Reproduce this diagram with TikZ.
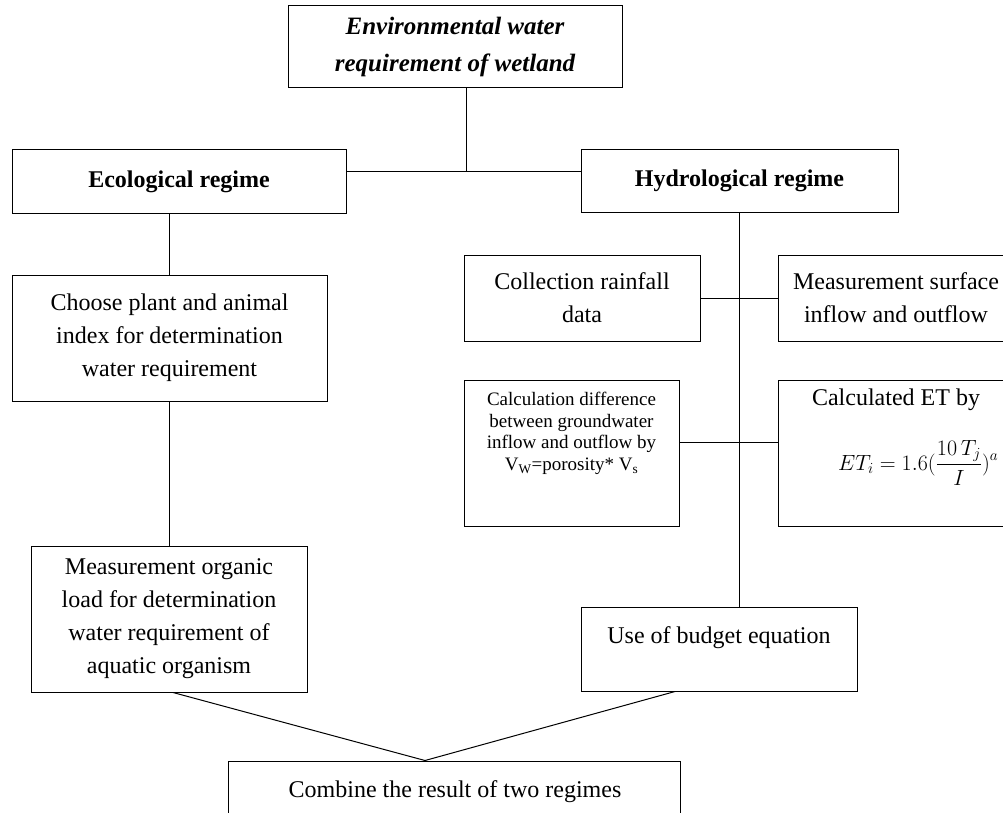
\RequirePackage{fix-cm}
\documentclass[tikz,border=0pt]{standalone}
\usepackage{fontspec}
\setmainfont{Liberation Serif}
\begin{document}
\begin{tikzpicture}[x=1pt,y=-1pt,
  box/.style={draw, line width=1pt, inner sep=0pt, align=center, font=\fontsize{24}{33}\selectfont},
  boldbox/.style={box, font=\fontsize{24}{33}\selectfont\bfseries},
  txt/.style={inner sep=0pt, align=center, anchor=north, font=\fontsize{24}{33}\selectfont},
  link/.style={draw, line width=1pt}]
\fill[white] (0,0) rectangle (1003,813);
\useasboundingbox (0,0) rectangle (1003,813);
\clip (0,0) rectangle (1003,813);

% boxes
\node[box, minimum width=334pt, minimum height=82pt, font=\fontsize{25}{37}\selectfont\bfseries\itshape] (top) at (455,47) {Environmental water\\requirement of wetland};
\node[boldbox, minimum width=334pt, minimum height=63pt] (eco) at (179,181.5) {Ecological regime};
\node[boldbox, minimum width=317pt, minimum height=62pt] (hydro) at (739.5,181) {Hydrological regime};
\node[box, minimum width=315pt, minimum height=126pt] (choose) at (169.5,338) {Choose plant and animal\\index for determination\\water requirement};
\node[box, minimum width=276pt, minimum height=146pt] (organic) at (169,619) {Measurement organic\\load for determination\\water requirement of\\aquatic organism};
\node[box, minimum width=236pt, minimum height=86pt] (rain) at (582,298) {Collection rainfall\\data};
\node[box, minimum width=236pt, minimum height=86pt] (surf) at (896,298) {Measurement surface\\inflow and outflow};
\node[box, minimum width=215pt, minimum height=146pt] (calc) at (571.5,453) {};
\node[box, minimum width=236pt, minimum height=146pt] (et) at (896,453) {};
\node[box, minimum width=276pt, minimum height=84pt] (budget) at (719,649) {};
\node[box, minimum width=452pt, minimum height=100pt] (comb) at (454,811) {};

% top-aligned texts
\node[txt, font=\fontsize{19}{21.7}\selectfont] (calct) at (571.5,392) {Calculation difference\\between groundwater\\inflow and outflow by\\V\textsubscript{W}=porosity* V\textsubscript{s}};
\node[txt] (ett) at (896,389) {Calculated ET by};
\node[anchor=base west, inner sep=0pt, font=\fontsize{22}{26}\selectfont] (etf) at (838,470) {$\displaystyle ET_i = 1.6(\frac{10\,T_j}{I})^a$};
\node[txt] (budt) at (719,626.5) {Use of budget equation};
\node[txt] (combt) at (455,780.5) {Combine the result of two regimes};

% connectors
\coordinate (J) at (466,172);
\draw[link] (top.south -| J) -- (J);
\draw[link] (eco.east |- J) -- (hydro.west |- J);
\draw[link] (choose.north |- eco.south) -- (choose.north);
\draw[link] (choose.south) -- (choose.south |- organic.north);
\draw[link] (hydro.south) -- (hydro.south |- budget.north);
\draw[link] (rain.east) -- (surf.west);
\coordinate (K) at (739,442);
\draw[link] (calc.east |- K) -- (et.west |- K);
\coordinate (M) at ([xshift=-29pt]comb.north);
\draw[link] ([xshift=4pt]organic.south) -- (M) -- ([xshift=-44pt]budget.south);
\end{tikzpicture}
\end{document}
